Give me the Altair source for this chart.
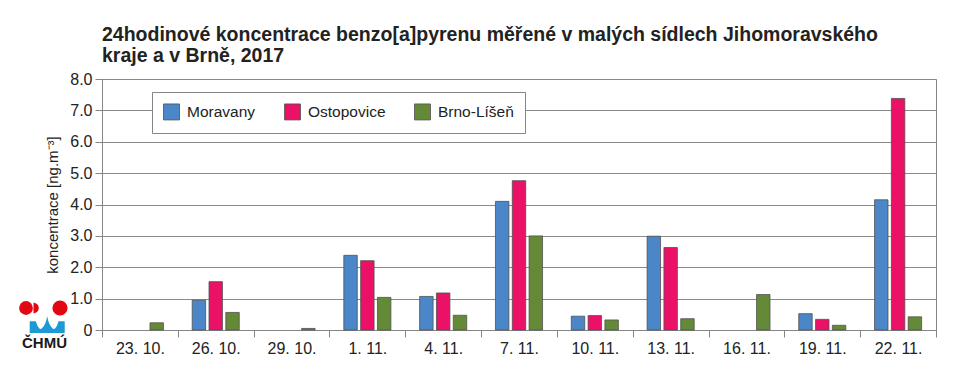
import altair as alt
import pandas as pd

dates = ["23. 10.", "26. 10.", "29. 10.", "1. 11.", "4. 11.", "7. 11.",
         "10. 11.", "13. 11.", "16. 11.", "19. 11.", "22. 11."]
series = ["Moravany", "Ostopovice", "Brno-Líšeň"]
moravany = [None, 0.95, None, 2.38, 1.07, 4.10, 0.44, 2.99, None, 0.52, 4.15]
ostopovice = [None, 1.54, None, 2.21, 1.18, 4.76, 0.46, 2.63, None, 0.34, 7.38]
lisen = [0.23, 0.56, 0.05, 1.04, 0.47, 3.00, 0.32, 0.36, 1.13, 0.15, 0.42]
colors = ["#4a86c8", "#ea1166", "#648a38"]
y_ticks = [0, 1, 2, 3, 4, 5, 6, 7, 8]

rows = []
for name, vals in zip(series, [moravany, ostopovice, lisen]):
    for d, v in zip(dates, vals):
        if v is not None:
            rows.append({"date": d, "series": name, "value": v})
df = pd.DataFrame(rows)

FONT = "Liberation Sans"

bars = alt.Chart(df).mark_bar(stroke="#505050", strokeWidth=0.8).encode(
    x=alt.X("date:N", sort=dates,
            scale=alt.Scale(paddingInner=0, paddingOuter=0),
            axis=alt.Axis(title=None, labelAngle=0, tickBand="extent", grid=False,
                          tickSize=7, labelPadding=3, labelFontSize=16,
                          labelColor="#222222", domainColor="#858585",
                          tickColor="#858585")),
    xOffset=alt.XOffset("series:N", sort=series,
                        scale=alt.Scale(paddingInner=0.2, paddingOuter=0.855)),
    y=alt.Y("value:Q", scale=alt.Scale(domain=[0, 8], nice=False),
            axis=alt.Axis(values=y_ticks,
                          labelExpr="datum.value == 0 ? '0' : format(datum.value, '.1f')",
                          title="koncentrace [ng.m⁻³]", titleFontSize=15,
                          titleFontWeight="normal", titleColor="#222222",
                          titlePadding=9, tickSize=7, labelPadding=3,
                          labelFontSize=16, labelColor="#222222",
                          domainColor="#858585", tickColor="#858585",
                          gridColor="#8a8a8a", gridWidth=1)),
    color=alt.Color("series:N", sort=series,
                    scale=alt.Scale(domain=series, range=colors),
                    legend=alt.Legend(title=None, orient="none", legendX=50, legendY=13,
                                      direction="horizontal", symbolType="square",
                                      symbolSize=256, symbolStrokeColor="#505050",
                                      symbolStrokeWidth=0.8, labelFontSize=15.5,
                                      labelColor="#222222", labelOffset=7,
                                      columnPadding=26, padding=11,
                                      fillColor="white", strokeColor="#858585")),
)

one = pd.DataFrame({"k": [0]})
red = "#e30613"
blue = "#1b9ad6"
logo_left = alt.Chart(one).mark_point(filled=True, shape="circle", color=red, opacity=1,
                                      size=190).encode(
    x=alt.value(-76), y=alt.value(229))
logo_half = alt.Chart(one).mark_point(filled=True, shape="M0,-1 A1,1 0 0 1 0,1 Z",
                                      color=red, opacity=1, size=110).encode(
    x=alt.value(-68.5), y=alt.value(229))
logo_right = alt.Chart(one).mark_point(filled=True, shape="circle", color=red, opacity=1,
                                       size=230).encode(
    x=alt.value(-42), y=alt.value(229))
wave_path = ("M-1,-0.18 L-0.65,-0.18 Q-0.5,0.3 -0.35,0.25 Q-0.1,0.1 0,-0.47 "
             "Q0.1,0.1 0.35,0.25 Q0.5,0.3 0.65,-0.18 L1,-0.18 L1,0.49 L-1,0.49 Z")
logo_wave = alt.Chart(one).mark_point(filled=True, shape=wave_path, color=blue, opacity=1,
                                      size=1225).encode(
    x=alt.value(-54.8), y=alt.value(245.5))
logo_text = alt.Chart(one).mark_text(text="ČHMÚ", font=FONT, fontSize=15, fontWeight="bold",
                                     color="#1a1a1a", align="center",
                                     baseline="alphabetic").encode(
    x=alt.value(-57.5), y=alt.value(269))

chart = alt.layer(bars, logo_left, logo_half, logo_right, logo_wave, logo_text).properties(
    width=834, height=251,
    autosize=alt.AutoSizeParams(type="none"),
    padding={"left": 94, "top": 71, "right": 30, "bottom": 48},
    title=alt.TitleParams(
        text=["24hodinové koncentrace benzo[a]pyrenu měřené v malých sídlech Jihomoravského",
              "kraje a v Brně, 2017"],
        anchor="start", frame="group", fontSize=19.5, fontWeight="bold",
        color="#222222", font=FONT, lineHeight=21, offset=5),
).configure(font=FONT).configure_view(stroke="#858585", strokeWidth=1)

chart.save("out.html", embed_options={"renderer": "svg", "actions": False})
